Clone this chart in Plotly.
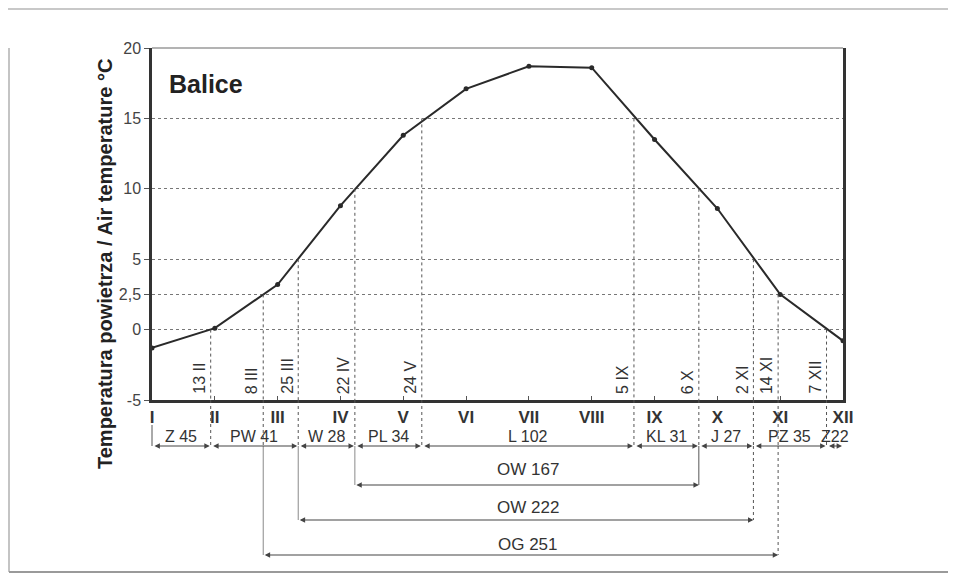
import plotly.graph_objects as go

# ---------------- data ----------------
months = ["I", "II", "III", "IV", "V", "VI", "VII", "VIII", "IX", "X", "XI", "XII"]
month_pos = list(range(1, 13))
temps = [-1.3, 0.1, 3.2, 8.8, 13.8, 17.1, 18.7, 18.6, 13.5, 8.6, 2.5, -0.8]

y_ticks = [-5, 0, 2.5, 5, 10, 15, 20]
y_tick_text = ["-5", "0", "2,5", "5", "10", "15", "20"]

date_labels = ["13 II", "8 III", "25 III", "22 IV", "24 V", "5 IX", "6 X", "2 XI", "14 XI", "7 XII"]
date_day = [13, 8, 25, 22, 24, 5, 6, 2, 14, 7]
date_month = [2, 3, 3, 4, 5, 9, 10, 11, 11, 12]
date_threshold = [0, 2.5, 5, 10, 15, 15, 10, 5, 2.5, 0]

period_labels = ["Z 45", "PW 41", "W 28", "PL 34", "L 102", "KL 31", "J 27", "PZ 35", "Z22"]
period_bounds = ["13 II", "25 III", "22 IV", "24 V", "5 IX", "6 X", "2 XI", "7 XII"]

span_labels = ["OW 167", "OW 222", "OG 251"]
span_start = ["22 IV", "25 III", "8 III"]
span_end = ["6 X", "2 XI", "14 XI"]

# ---------------- layout geometry (page pixels) ----------------
OFF = 8                      # default body margin of the page
W, H = 956 - 2 * OFF, 582 - 2 * OFF
PL, PR, PT, PB = 152, 843, 48, 400  # plot area in page pixels


def py(p):
    return (PB - p) / (PB - PT)


def pxp(p):
    return (p - PL) / (PR - PL)


def date_x(label):
    i = date_labels.index(label)
    return date_month[i] + (date_day[i] - 15) / 30.5


ROW_LINE = 446
ROW_TEXT = 436
SPAN_LINE = [485, 520, 555]
SPAN_TEXT = [470, 507, 544]

FONT = "Liberation Sans, Arial, sans-serif"
DARK = "#2a2a2a"
TXT = "#333333"

fig = go.Figure()
fig.add_trace(go.Scatter(
    x=month_pos, y=temps, mode="lines+markers",
    line=dict(color=DARK, width=2),
    marker=dict(color=DARK, size=5),
    showlegend=False, hoverinfo="skip",
))

shapes = []
annotations = []

span_end_px = {}
for lab, end in zip(span_start, SPAN_LINE):
    span_end_px[lab] = end
for lab, end in zip(span_end, SPAN_LINE):
    span_end_px[lab] = end

for i, lab in enumerate(date_labels):
    xv = date_x(lab)
    shapes.append(dict(type="line", xref="x", yref="y", x0=xv, x1=xv,
                       y0=date_threshold[i], y1=-5,
                       line=dict(color="#555", width=1, dash="dot")))
    shapes.append(dict(type="line", xref="x", yref="paper", x0=xv, x1=xv,
                       y0=0, y1=py(ROW_LINE),
                       line=dict(color="#555", width=1, dash="dot")))
    if lab in span_end_px:
        is_start = lab in span_start
        solid = is_start or lab == "6 X"
        shapes.append(dict(type="line", xref="x", yref="paper", x0=xv, x1=xv,
                           y0=py(ROW_LINE), y1=py(span_end_px[lab]),
                           line=dict(color="#8a8a8a" if is_start else "#555", width=1,
                                     dash="solid" if solid else "dot")))
    annotations.append(dict(xref="x", yref="y", x=xv, y=-5, text=lab,
                            textangle=-90, showarrow=False, xanchor="right",
                            yanchor="bottom", xshift=-1, yshift=4,
                            font=dict(family=FONT, size=16, color=TXT)))

# period row
bounds = [1] + [date_x(b) for b in period_bounds] + [12]
for i, lab in enumerate(period_labels):
    a, b = bounds[i], bounds[i + 1]
    annotations.append(dict(xref="x", yref="paper", x=(a + b) / 2, y=py(ROW_TEXT),
                            text=lab, showarrow=False, xanchor="center", yanchor="middle",
                            font=dict(family=FONT, size=16, color=TXT)))
    annotations.append(dict(xref="x", yref="paper", x=b, y=py(ROW_LINE), ax=a, ay=0,
                            axref="x", ayref="pixel", text="", showarrow=True,
                            arrowhead=2, arrowside="end+start", arrowsize=0.9,
                            arrowwidth=1.2, arrowcolor="#444", standoff=1, startstandoff=1))
shapes.append(dict(type="line", xref="paper", yref="paper", x0=0, x1=0,
                   y0=py(425), y1=py(ROW_LINE), line=dict(color="#555", width=1)))

# spans
for lab, s, e, yl, yt in zip(span_labels, span_start, span_end, SPAN_LINE, SPAN_TEXT):
    a, b = date_x(s), date_x(e)
    annotations.append(dict(xref="x", yref="paper", x=b, y=py(yl), ax=a, ay=0,
                            axref="x", ayref="pixel", text="", showarrow=True,
                            arrowhead=2, arrowside="end+start", arrowsize=0.9,
                            arrowwidth=1.2, arrowcolor="#444", standoff=0, startstandoff=0))
    annotations.append(dict(xref="paper", yref="paper", x=pxp(528), y=py(yt), text=lab,
                            showarrow=False, xanchor="center", yanchor="middle",
                            font=dict(family=FONT, size=17, color=TXT)))

# title and y-axis title
annotations.append(dict(xref="paper", yref="paper", x=pxp(167), y=py(84), text="<b>Balice</b>",
                        showarrow=False, xanchor="left", yanchor="middle",
                        font=dict(family=FONT, size=25, color="#222")))
annotations.append(dict(xref="paper", yref="paper", x=pxp(105), y=py(264),
                        text="<b>Temperatura powietrza / Air temperature °C</b>",
                        textangle=-90, showarrow=False, xanchor="center", yanchor="middle",
                        font=dict(family=FONT, size=20, color="#222")))

# frame decorations
shapes.append(dict(type="line", xref="paper", yref="paper", x0=0, x1=1, y0=1, y1=1,
                   line=dict(color="#9a9a9a", width=1.5)))
shapes.append(dict(type="line", xref="paper", yref="paper", x0=pxp(OFF), x1=pxp(956 - OFF),
                   y0=py(OFF + 1), y1=py(OFF + 1), line=dict(color="#c8c8c8", width=2)))
shapes.append(dict(type="line", xref="paper", yref="paper", x0=pxp(OFF + 1), x1=pxp(OFF + 1),
                   y0=py(48), y1=py(572), line=dict(color="#b0b0b0", width=1.5)))
shapes.append(dict(type="line", xref="paper", yref="paper", x0=pxp(OFF + 1), x1=pxp(956 - OFF),
                   y0=py(572), y1=py(572), line=dict(color="#9a9a9a", width=2)))

fig.update_layout(
    width=W, height=H,
    margin=dict(l=PL - OFF, r=(W + OFF) - PR, t=PT - OFF, b=(H + OFF) - PB),
    paper_bgcolor="white", plot_bgcolor="white",
    shapes=shapes, annotations=annotations,
    showlegend=False,
    xaxis=dict(range=[1, 12], tickvals=month_pos,
               ticktext=["<b>%s</b>" % m for m in months],
               tickfont=dict(family=FONT, size=17, color=TXT),
               showgrid=False, zeroline=False,
               showline=True, linecolor="#333", linewidth=2.5,
               ticks="inside", ticklen=4, tickcolor="#555"),
    yaxis=dict(range=[-5, 20], tickvals=y_ticks, ticktext=y_tick_text,
               tickfont=dict(family=FONT, size=16, color="#444"),
               showgrid=True, gridcolor="#777", griddash="dot", gridwidth=1,
               zeroline=False, showline=True, mirror=True,
               linecolor="#333", linewidth=2.5,
               ticks="outside", ticklen=5, tickcolor="#555"),
)

fig.write_html("out.html")
